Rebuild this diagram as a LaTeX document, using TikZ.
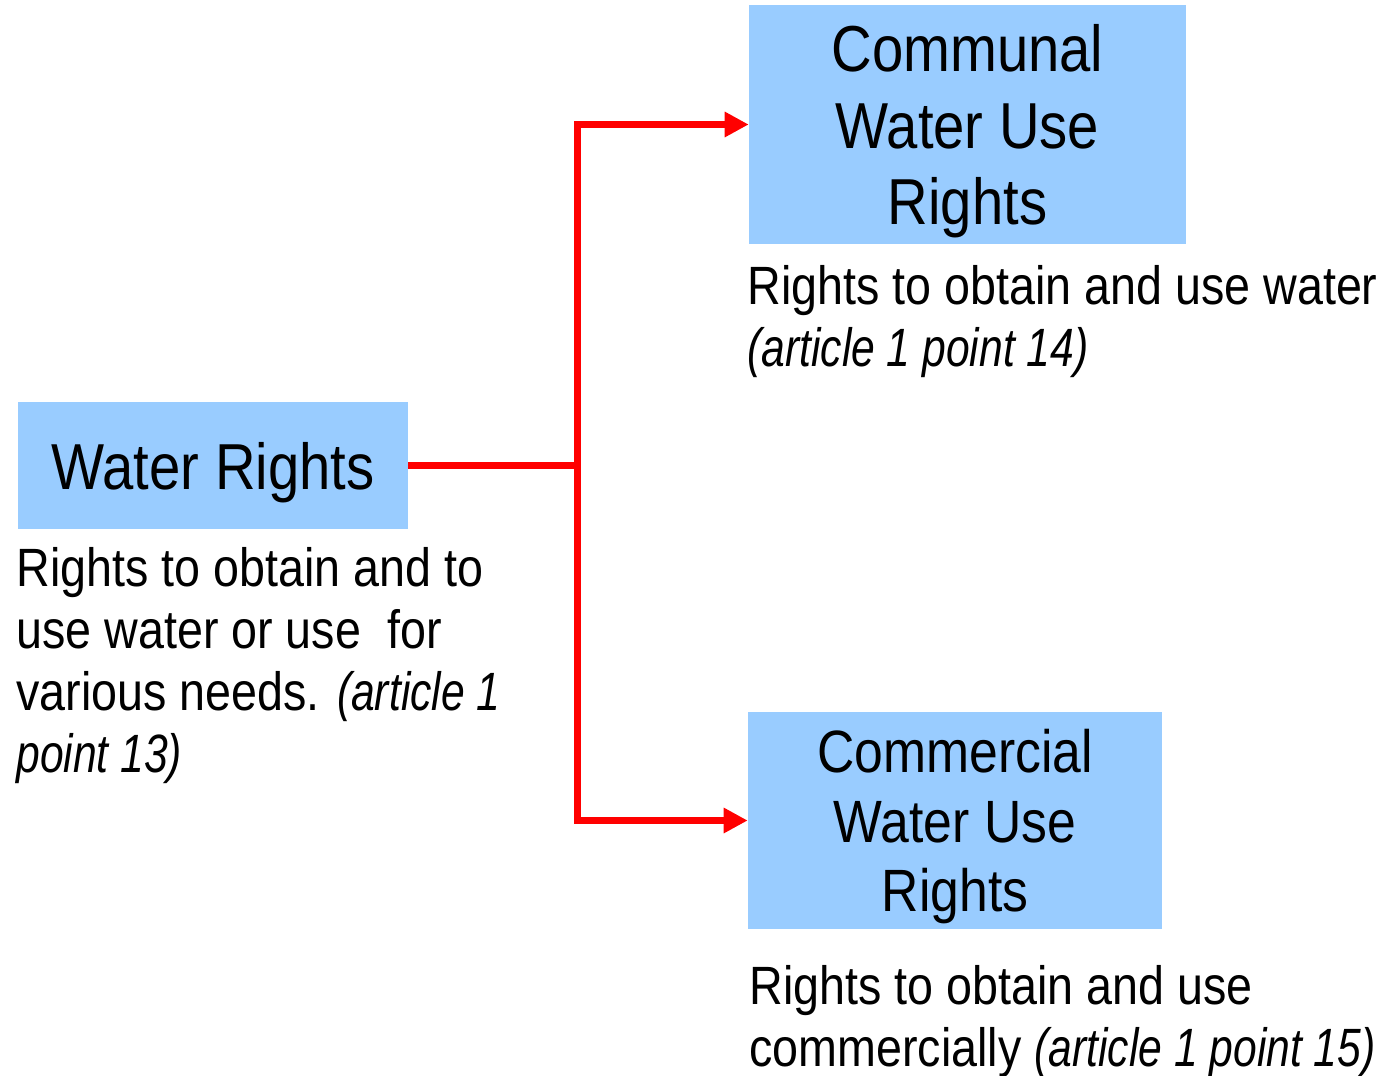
\documentclass[tikz,border=0pt]{standalone}
\usepackage{fontspec}
\setmainfont[FakeStretch=0.865,ItalicFeatures={FakeStretch=0.79}]{Liberation Sans}
\usetikzlibrary{arrows.meta}
\definecolor{boxblue}{RGB}{153,204,255}
\tikzset{
  rightsbox/.style={fill=boxblue, inner sep=0pt, align=center, text depth=0pt,
    font=\fontsize{37}{43.4}\selectfont},
  note/.style={anchor=base west, align=left, inner sep=0pt,
    font=\fontsize{30.7}{35.2}\selectfont},
  link/.style={red, line width=0.14cm}
}
\begin{document}
\begin{tikzpicture}[x=0.02cm,y=-0.02cm,>={Triangle[length=0.48cm,width=0.48cm]}]
\useasboundingbox (0,0) rectangle (1386,1075);
% boxes
\node[rightsbox, minimum width=7.8cm, minimum height=2.54cm]
  (wr) at (213,465.5) {Water Rights};
\node[rightsbox, minimum width=8.74cm, minimum height=4.78cm]
  (communal) at (967.5,124.5) {Communal\\Water Use\\Rights};
\node[rightsbox, minimum width=8.28cm, minimum height=4.34cm,
  font=\fontsize{34}{39.7}\selectfont]
  (commercial) at (955,820.5) {Commercial\\Water Use\\Rights};
% notes (anchored at the baseline of the last line)
\node[note] (wrnote) at (16,772)
  {Rights to obtain and to\\use water or use\ \ for\\various needs. \textit{(article 1}\\\textit{point 13)}};
\node[note] (communalnote) at (747,366)
  {Rights to obtain and use water\\\textit{(article 1 point 14)}};
\node[note] (commercialnote) at (749,1066)
  {Rights to obtain and use\\commercially \textit{(article 1 point 15)}};
% connectors
\coordinate (split) at (577,465.5);
\draw[link] (wr.east) -- (split);
\draw[link,->] (split) |- (communal.west);
\draw[link,->] (split) |- (commercial.west);
\end{tikzpicture}
\end{document}
